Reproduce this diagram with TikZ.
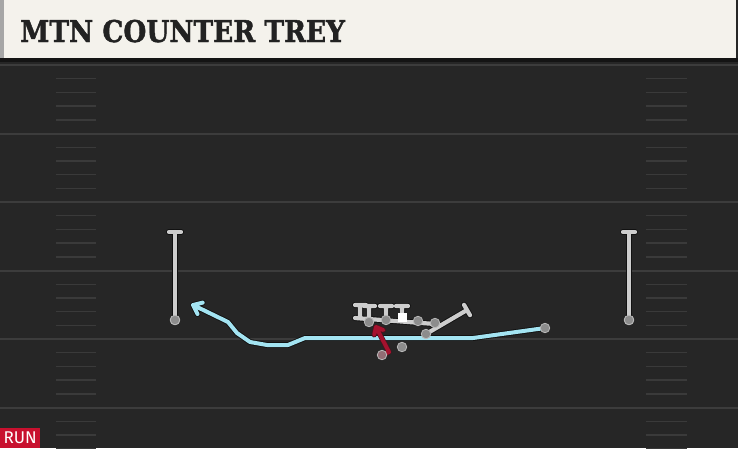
\documentclass[tikz,border=0pt]{standalone}
\usepackage{fontspec}
\newfontfamily\titlefont{DejaVu Serif}[BoldFeatures={FakeBold=1.6}]
\newfontfamily\runfont{Fira Sans}
\definecolor{cream}{HTML}{F4F2EC}
\definecolor{field}{HTML}{262626}
\definecolor{yardc}{HTML}{3C3C3C}
\definecolor{hashc}{HTML}{3A3A3A}
\definecolor{titlec}{HTML}{222222}
\definecolor{routeblue}{HTML}{A3E4F2}
\definecolor{runred}{HTML}{A5122E}
\definecolor{badge}{HTML}{C8102E}
\definecolor{plgray}{HTML}{CDCDCD}
\definecolor{dotgray}{HTML}{8C8C8C}
\definecolor{outl}{HTML}{111111}
\tikzset{
  yardline/.style={draw=yardc, line width=2pt},
  hashline/.style={draw=hashc, line width=1.4pt},
  plline/.style={draw=plgray, line width=4.2pt, line cap=round, line join=round,
    preaction={draw=outl, line width=6pt, line cap=round, line join=round}},
  route/.style={draw=routeblue, line width=4pt, line cap=round, line join=round,
    preaction={draw=outl, line width=5.8pt, line cap=round, line join=round}},
  runpath/.style={draw=runred, line width=3.9pt, line cap=round, line join=round,
    preaction={draw=outl!60!runred, line width=5.2pt, line cap=round, line join=round}},
  player/.style={circle, fill=dotgray, draw=plgray!70!dotgray, line width=0.8pt, minimum size=9.5pt, inner sep=0},
  ball/.style={rectangle, fill=white, minimum size=9pt, inner sep=0},
}
\begin{document}
\begin{tikzpicture}[x=1pt,y=-1pt]
\useasboundingbox (0,0) rectangle (738,448);
% field
\fill[field] (0,0) rectangle (738,448);
% header
\fill[cream] (0,0) rectangle (736,58);
\fill[black!35] (0,0) rectangle (4,58);
\fill[black!92] (0,58) rectangle (738,62);
% yard lines and hashes
\foreach \yl in {65,133.5,202,270.5,339,407.5}{
  \draw[yardline] (0,\yl) -- (738,\yl);
  \foreach \k in {1,2,3,4}{
    \pgfmathsetmacro\yy{\yl+13.7*\k}
    \draw[hashline] (56,\yy) -- (96,\yy);
    \draw[hashline] (646,\yy) -- (687,\yy);
  }
}
% title
\node[anchor=base west, inner sep=0, text=titlec,
  font=\titlefont\bfseries\fontsize{30}{30}\selectfont] (title) at (20,42)
  {\scalebox{0.88}[1]{MTN COUNTER TREY}};
% RUN badge
\node[anchor=south west, fill=badge, text=white, minimum width=40pt, minimum height=20pt,
  inner sep=0, font=\runfont\fontsize{17}{17}\selectfont] (run) at (0,448) {RUN};

% coordinates
\coordinate (wrLt) at (175,232);
\coordinate (wrRt) at (629,232);
\node[player] (wrL) at (175,320) {};
\node[player] (wrR) at (629,320) {};

% receivers
\draw[plline] (wrLt) -- (wrL.center) (169,232) -- (181,232);
\draw[plline] (wrRt) -- (wrR.center) (623,232) -- (635,232);
\node[player] at (wrL) {};
\node[player] at (wrR) {};

% blue route
\coordinate (slot) at (545,328);
\coordinate (tipB) at (193,305);
\draw[route] (slot) -- (473,338) -- (305,338) -- (288,345) -- (267,345) -- (250,342)
  -- (237,333) -- (228,322) -- (tipB)
  (202.7,302.6) -- (tipB) -- (197.5,314);
\node[player] (sl) at (slot) {};

% offensive line blocks
\draw[plline] (355,318) -- (435,324)
  (360,318) -- (360,305) (355,305) -- (366,305)
  (369,318) -- (369,306) (364,306) -- (375,306)
  (386,319) -- (386,306) (380,306) -- (392,306)
  (402,318) -- (402,306) (396,306) -- (408,306)
  (426,334) -- (467,310) (464,304.8) -- (470,315.2);
\node[player] (lg) at (369,322) {};
\node[player] (lt) at (386,320) {};
\node[player] (rg) at (418,321) {};
\node[player] (rt) at (435,323) {};
\node[player] (te) at (426,334) {};
\node[ball] (c) at (402,317) {};

% backfield
\node[player] (qb) at (402,347) {};
\coordinate (tipR) at (376,327);
\draw[runpath] (382,355) -- (389,352) -- (tipR)
  (383.4,330.1) -- (tipR) -- (374.2,334.8);
\node[player, fill=dotgray!75!runred] (rb) at (382,355) {};
\end{tikzpicture}
\end{document}
